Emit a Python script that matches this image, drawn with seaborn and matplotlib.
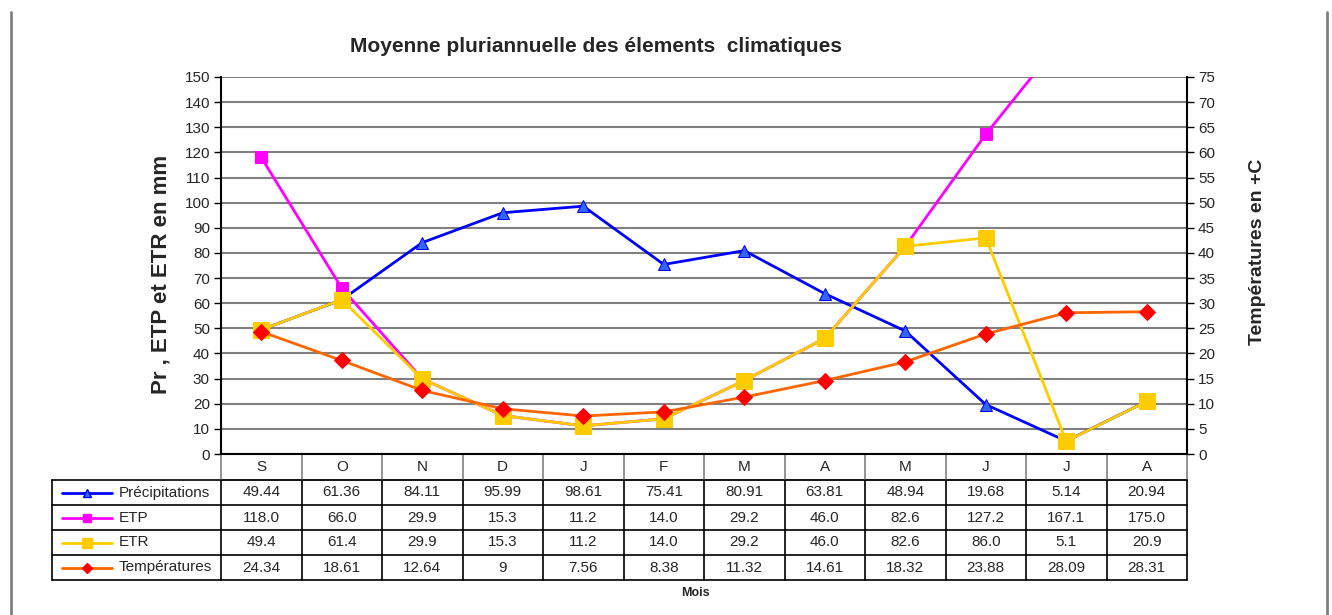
import numpy as np
import matplotlib
matplotlib.use("Agg")
import matplotlib.pyplot as plt
import seaborn as sns
from matplotlib.transforms import blended_transform_factory
from matplotlib.lines import Line2D

# Monthly climate means (hydrological year, September to August)
months = ["S", "O", "N", "D", "J", "F", "M", "A", "M", "J", "J", "A"]
precipitations = [49.44, 61.36, 84.11, 95.99, 98.61, 75.41, 80.91, 63.81, 48.94, 19.68, 5.14, 20.94]
etp = [118.0, 66.0, 29.9, 15.3, 11.2, 14.0, 29.2, 46.0, 82.6, 127.2, 167.1, 175.0]
etr = [49.4, 61.4, 29.9, 15.3, 11.2, 14.0, 29.2, 46.0, 82.6, 86.0, 5.1, 20.9]
temperatures = [24.34, 18.61, 12.64, 9, 7.56, 8.38, 11.32, 14.61, 18.32, 23.88, 28.09, 28.31]

series_names = ["Précipitations", "ETP", "ETR", "Températures"]
table_text = [
    [f"{v:.2f}" for v in precipitations],
    [f"{v:.1f}" for v in etp],
    [f"{v:.1f}" for v in etr],
    [f"{v:g}" for v in temperatures],
]

sns.set_style("white")
plt.rcParams["font.family"] = ["Liberation Sans", "DejaVu Sans"]

W, H = 1332, 615
fig = plt.figure(figsize=(W / 100, H / 100), dpi=100)
ax_l, ax_r, ax_t, ax_b = 221, 1187, 77, 454
ax = fig.add_axes([ax_l / W, 1 - ax_b / H, (ax_r - ax_l) / W, (ax_b - ax_t) / H])
ax2 = ax.twinx()

x = np.arange(len(months))

styles = [
    dict(color="#0000FF", marker="^", markersize=9, markerfacecolor="#3366FF", markeredgecolor="#0000FF"),
    dict(color="#FF00FF", marker="s", markersize=9, markerfacecolor="#FF00FF", markeredgecolor="#FF00FF"),
    dict(color="#FFCC00", marker="s", markersize=11, markerfacecolor="#FFCC00", markeredgecolor="#FFCC00"),
    dict(color="#FF6600", marker="D", markersize=8, markerfacecolor="#FF0000", markeredgecolor="#FF0000"),
]

for vals, st in zip([precipitations, etp, etr], styles[:3]):
    sns.lineplot(x=x, y=vals, ax=ax, linewidth=2, **st)
sns.lineplot(x=x, y=temperatures, ax=ax2, linewidth=2, **styles[3])

# Axes, ticks and grid
ax.set_xlim(-0.5, len(months) - 0.5)
ax.set_ylim(0, 150)
ax.set_yticks(range(0, 151, 10))
ax2.set_ylim(0, 75)
ax2.set_yticks(range(0, 76, 5))
ax.set_xticks([])
ax.set_xlabel("")
ax.yaxis.grid(True, color="#808080", linewidth=1.5)
ax.set_axisbelow(True)

for sp in ["top", "right"]:
    ax.spines[sp].set_visible(False)
for sp in ["left", "bottom"]:
    ax.spines[sp].set_color("black")
    ax.spines[sp].set_linewidth(1.5)
for sp in ["top", "left", "bottom"]:
    ax2.spines[sp].set_visible(False)
ax2.spines["right"].set_color("black")
ax2.spines["right"].set_linewidth(1.5)

ax.tick_params(axis="y", direction="out", length=5, width=1, color="black", labelsize=11, pad=3)
ax2.tick_params(axis="y", direction="out", length=5, width=1, color="black", labelsize=11, pad=3)

ax.set_ylabel("Pr , ETP et ETR en mm", fontsize=16, fontweight="bold")
ax.yaxis.set_label_coords(-0.051, 0.475)
ax2.set_ylabel("Températures en +C", fontsize=14, fontweight="bold")
ax2.yaxis.set_label_coords(1.064, 0.535)

fig.text(596 / W, 1 - 47 / H, "Moyenne pluriannuelle des élements  climatiques",
         ha="center", va="center", fontsize=15, fontweight="bold")
fig.text(695 / W, 1 - 593 / H, "Mois", ha="center", va="center", fontsize=9, fontweight="bold")

# Data table beneath the plot
axh = ax_b - ax_t
def fy(py):
    return (ax_b - py) / axh
def fx(px):
    return (px - ax_l) / (ax_r - ax_l)

row_edges = [454, 480, 505, 530, 555, 580]
tb = blended_transform_factory(ax.transData, ax.transAxes)
ta = ax.transAxes
legend_left = fx(52)

# horizontal rules
ax.add_line(Line2D([0, 1], [fy(480)] * 2, transform=ta, color="#808080", lw=1.2, clip_on=False))
for py in row_edges[1:]:
    ax.add_line(Line2D([legend_left, 1], [fy(py)] * 2, transform=ta, color="black", lw=1.2, clip_on=False))
# vertical rules
for i in range(len(months) + 1):
    xb = i - 0.5
    ax.add_line(Line2D([xb, xb], [fy(454), fy(480)], transform=tb, color="#808080", lw=1.2, clip_on=False))
    ax.add_line(Line2D([xb, xb], [fy(480), fy(580)], transform=tb, color="black", lw=1.2, clip_on=False))
ax.add_line(Line2D([legend_left] * 2, [fy(480), fy(580)], transform=ta, color="black", lw=1.2, clip_on=False))

for i, m in enumerate(months):
    ax.text(i, fy(467), m, transform=tb, ha="center", va="center", fontsize=11, clip_on=False)

for r, (name, cells, st) in enumerate(zip(series_names, table_text, styles)):
    yc = fy((row_edges[r + 1] + row_edges[r + 2]) / 2)
    ax.add_line(Line2D([fx(62), fx(112)], [yc, yc], transform=ta, color=st["color"], lw=2, clip_on=False))
    ax.add_line(Line2D([fx(87)], [yc], transform=ta, marker=st["marker"],
                       markersize=st["markersize"] * 0.7, markerfacecolor=st["markerfacecolor"],
                       markeredgecolor=st["markeredgecolor"], linestyle="none", clip_on=False))
    ax.text(fx(119), yc, name, transform=ta, ha="left", va="center", fontsize=11, clip_on=False)
    for i, c in enumerate(cells):
        ax.text(i, yc, c, transform=tb, ha="center", va="center", fontsize=11, clip_on=False)

# chart-area border
fig.add_artist(Line2D([11 / W] * 2, [0, 1 - 12 / H], transform=fig.transFigure, color="#808080", lw=2))
fig.add_artist(Line2D([1327 / W] * 2, [0, 1 - 12 / H], transform=fig.transFigure, color="#808080", lw=2))

fig.savefig("out.png", dpi=100)
